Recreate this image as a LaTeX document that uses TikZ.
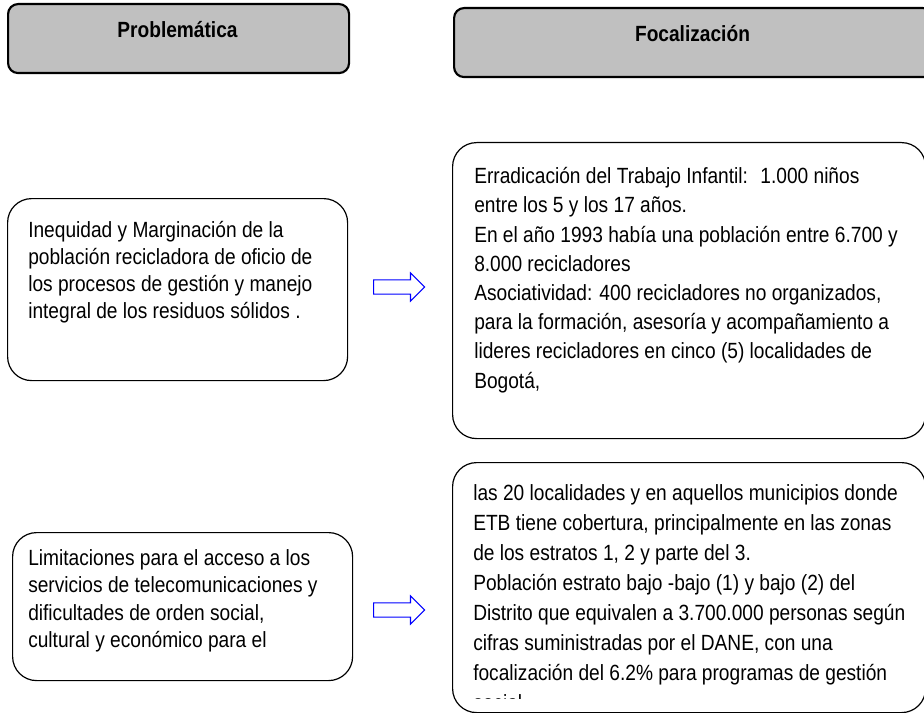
\documentclass[tikz,border=0pt]{standalone}
\usepackage{fontspec}
\setmainfont{Liberation Sans}
\newfontfamily\tallfont{Liberation Sans}[FakeStretch=0.87]
\usetikzlibrary{shapes.arrows}
\definecolor{headgray}{HTML}{C0C0C0}
\definecolor{arrowblue}{HTML}{0000FF}

\tikzset{
  headbox/.style={draw, line width=1.6pt, fill=headgray, rounded corners=7.5pt,
    anchor=north west, minimum height=51.75pt, inner sep=0pt},
  headtext/.style={font=\tallfont\bfseries\fontsize{16.5pt}{19pt}\selectfont, anchor=base, inner sep=0pt},
  textbox/.style={draw, line width=0.9pt, rounded corners=18pt, anchor=north west,
    minimum width=#1, inner sep=0pt},
  bodytext/.style={anchor=north west, inner sep=0pt, align=left,
    font=\tallfont\fontsize{16.5pt}{#1}\selectfont},
  blockarrow/.style={single arrow, draw=arrowblue, line width=0.8pt, fill=white,
    minimum height=38.25pt, inner sep=4.9pt, single arrow head extend=5.25pt}
}

\begin{document}
\begin{tikzpicture}[x=0.75pt,y=-0.75pt]
\useasboundingbox (0,0) rectangle (924,713);
\clip (0,0) rectangle (924,713);

% headers
\node[headbox, minimum width=255.75pt] (hprob) at (7,3) {};
\node[headbox, minimum width=359.25pt] (hfoc) at (453,7) {};
\node[headtext] (tprob) at (177.5,38) {Problemática};
\node[headtext] (tfoc) at (692.5,42) {Focalización};

% left column
\node[textbox=255pt, minimum height=136.5pt] (prob1) at (7,198) {};
\node[textbox=255pt, minimum height=111pt] (prob2) at (12,532) {};

\node[bodytext=20.25pt] (tprob1) at (28,218) {\strut Inequidad y Marginación de la\\
población recicladora de oficio de\\
los procesos de gestión y manejo\\
integral de los residuos sólidos .};

\node[bodytext=20.6pt] (tprob2) at (28,546) {\strut Limitaciones para el acceso a los\\
servicios de telecomunicaciones y\\
dificultades de orden social,\\
cultural y económico para el};

% right column
\node[textbox=354.75pt, minimum height=222pt] (foc1) at (452,142) {};
\node[textbox=354.75pt, minimum height=187.5pt] (foc2) at (452,462) {};

\node[bodytext=21.9pt] (tfoc1) at (474,163) {\strut Erradicación del Trabajo Infantil:~ 1.000 niños\\
entre los 5 y los 17 años.\\
En el año 1993 había una población entre 6.700 y\\
8.000 recicladores\\
Asociatividad: 400 recicladores no organizados,\\
para la formación, asesoría y acompañamiento a\\
lideres recicladores en cinco (5) localidades de\\
Bogotá,};

\begin{scope}
\clip (452,462) rectangle (930,698);
\node[bodytext=22.5pt] (tfoc2) at (473,479) {\strut las 20 localidades y en aquellos municipios donde\\
ETB tiene cobertura, principalmente en las zonas\\
de los estratos 1, 2 y parte del 3.\\
Población estrato bajo -bajo (1) y bajo (2) del\\
Distrito que equivalen a 3.700.000 personas según\\
cifras suministradas por el DANE, con una\\
focalización del 6.2\% para programas de gestión\\
social.};
\end{scope}

% arrows
\foreach \y/\n in {287/arrA, 610/arrB} {\node[blockarrow] (\n) at (395.5,\y) {};};
\end{tikzpicture}
\end{document}
